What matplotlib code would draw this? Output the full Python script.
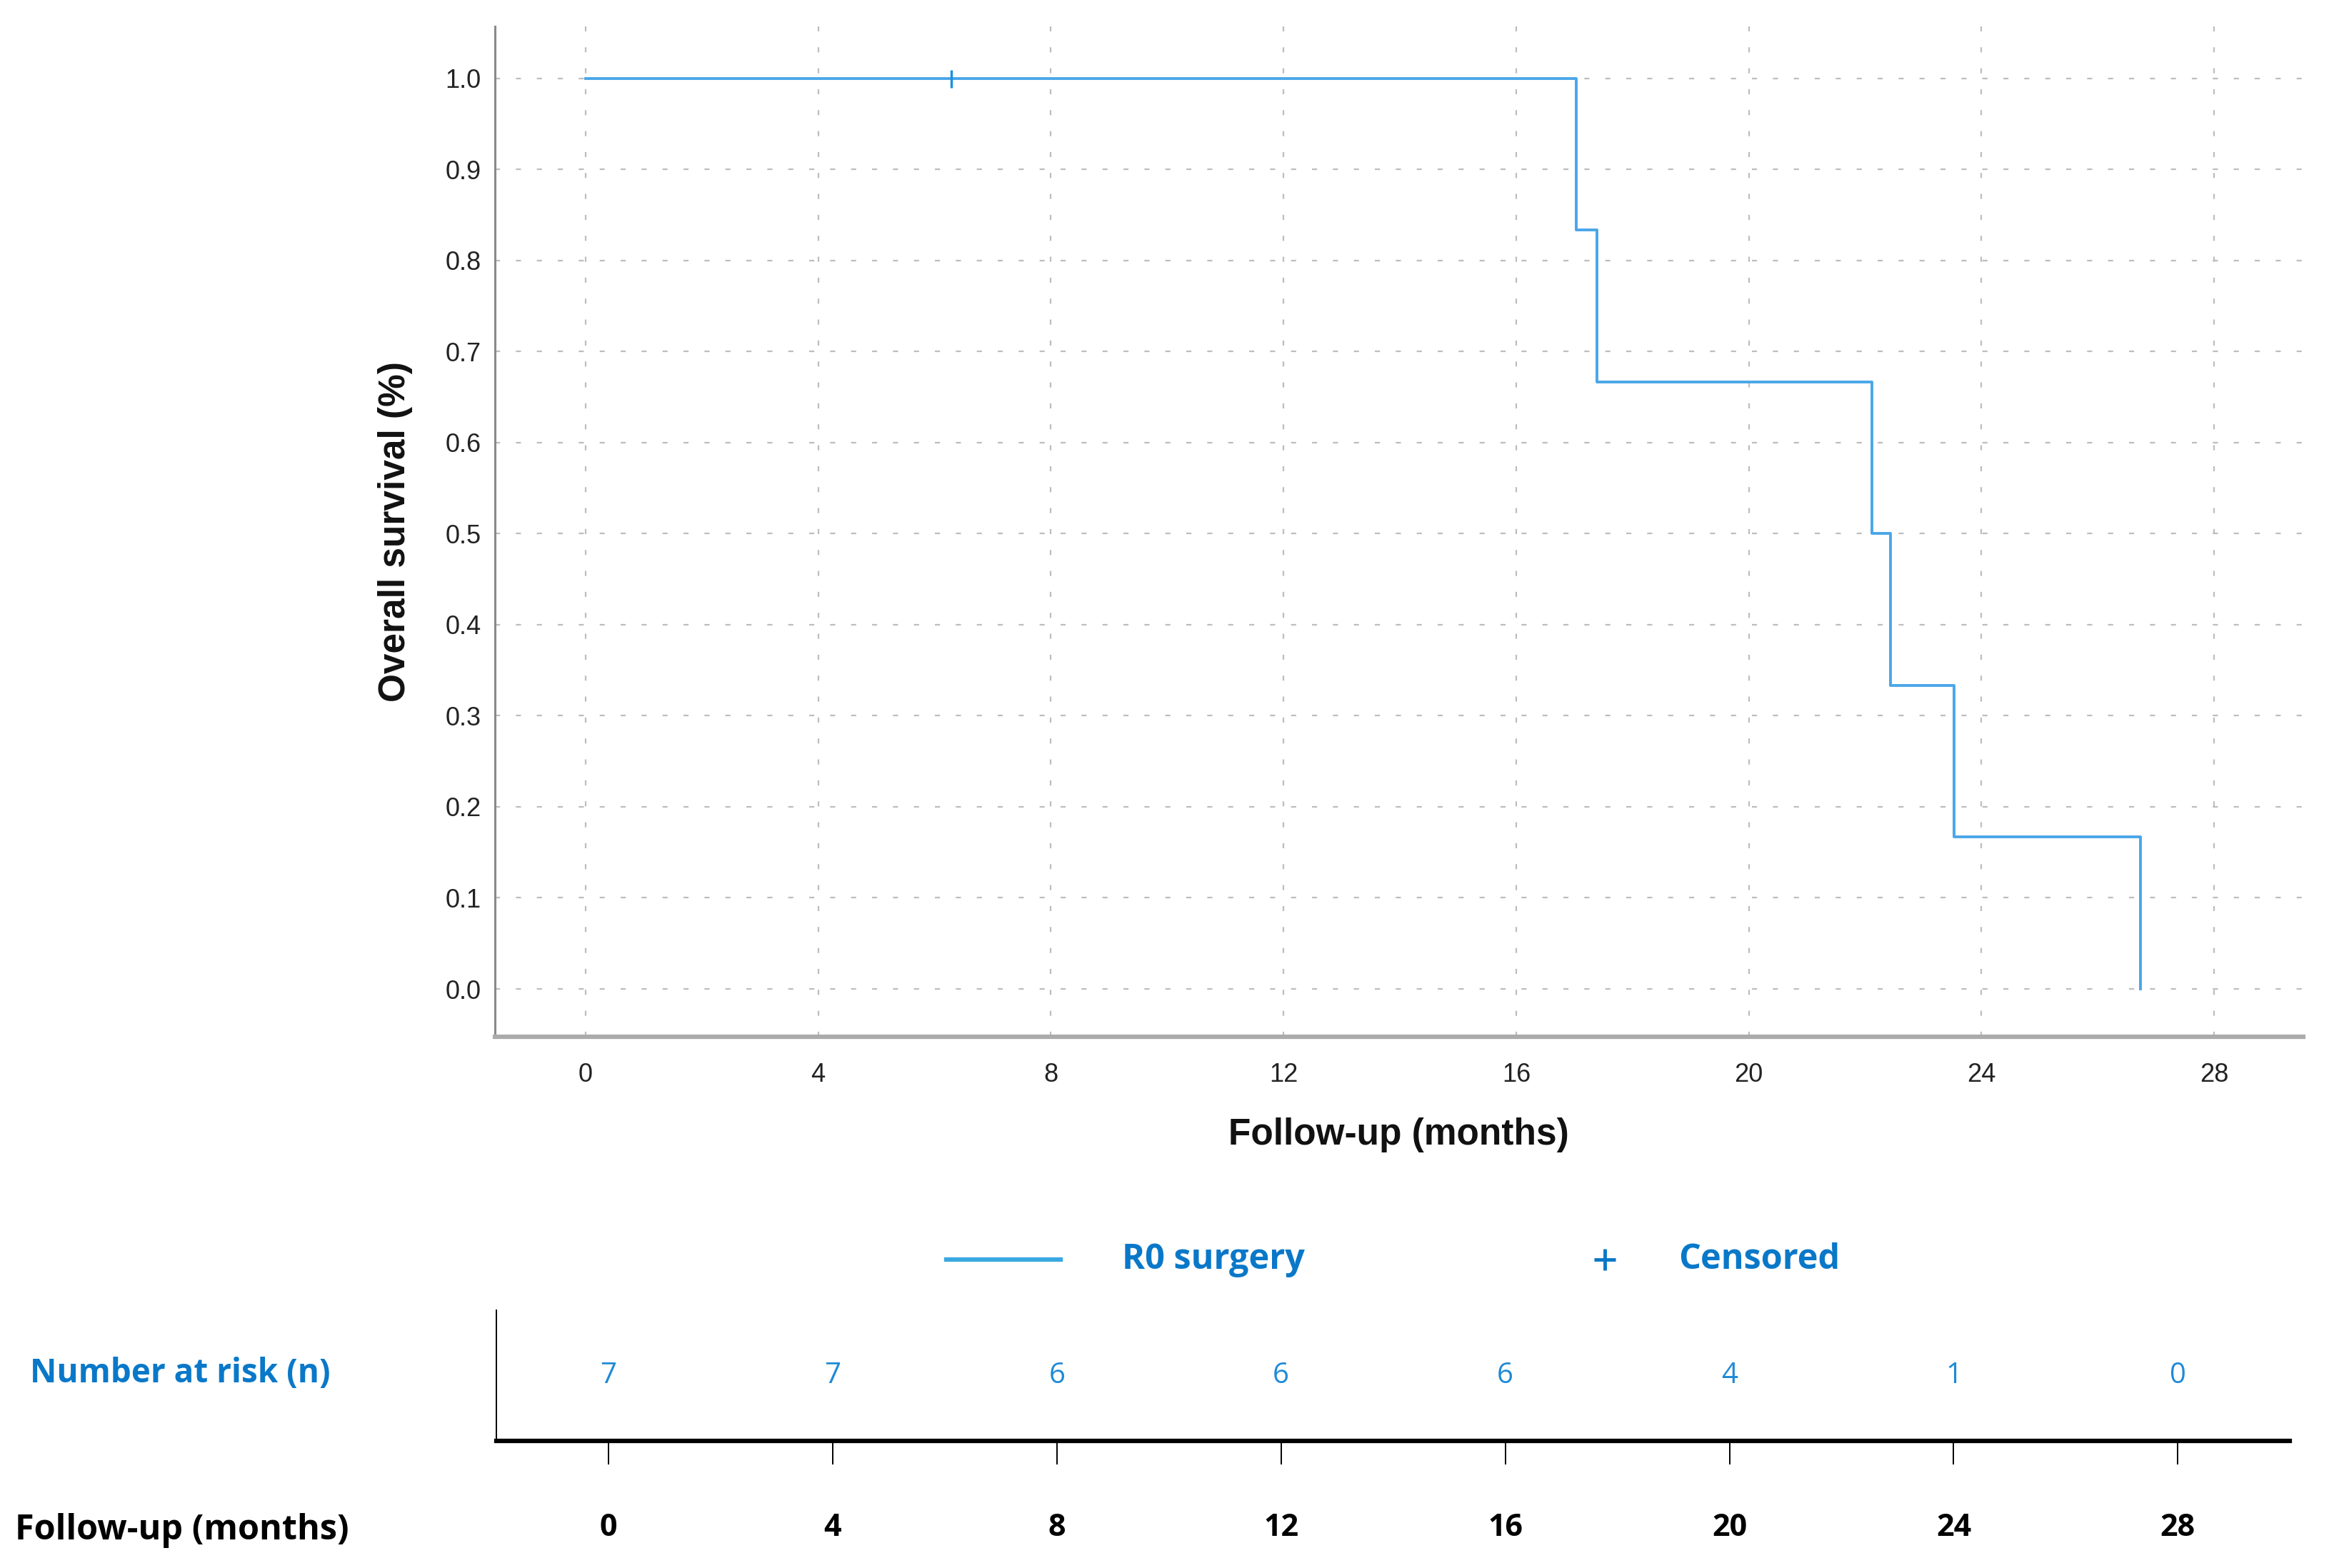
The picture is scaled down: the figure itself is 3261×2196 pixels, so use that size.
import matplotlib
matplotlib.use("Agg")
import matplotlib.pyplot as plt
from matplotlib.lines import Line2D
import numpy as np

# follow-up times (months)
event_times = [17.03, 17.39, 22.12, 22.43, 23.53, 26.73]
censor_times = [6.29]

x_ticks = [0, 4, 8, 12, 16, 20, 24, 28]
y_ticks = [0.0, 0.1, 0.2, 0.3, 0.4, 0.5, 0.6, 0.7, 0.8, 0.9, 1.0]

risk_times = [0, 4, 8, 12, 16, 20, 24, 28]
risk_counts = [7, 7, 6, 6, 6, 4, 1, 0]

line_col = "#4AA6E8"
blue_txt = "#0A78C8"
num_col = "#1E8AD6"


def kaplan_meier(events, censors):
    obs = sorted([(t, 1) for t in events] + [(t, 0) for t in censors])
    n = len(obs)
    s = 1.0
    xs, ys, cx, cy = [0.0], [1.0], [], []
    for t, e in obs:
        if e:
            s *= (n - 1) / n
            xs.append(t)
            ys.append(s)
        else:
            cx.append(t)
            cy.append(s)
        n -= 1
    return xs, ys, cx, cy


xs, ys, cx, cy = kaplan_meier(event_times, censor_times)

fig = plt.figure(figsize=(32.62, 21.96), dpi=100)

# ---- survival curve
ax = fig.add_axes([0.2124, 0.3388, 0.7762, 0.6444])
ax.step(xs, ys, where="post", color=line_col, lw=2.8, zorder=3)
ax.plot(cx, cy, ls="none", marker="|", ms=18, mew=2.5, color="#1E90E0", zorder=4)

ax.set_xlim(-1.56, 29.53)
ax.set_ylim(-0.0525, 1.057)
ax.set_xticks(x_ticks)
ax.set_yticks(y_ticks)
ax.set_yticklabels(["%.1f" % v for v in y_ticks])
ax.grid(True, color="#BDBDBD", lw=1.6, ls=(0, (3.2, 10)))
ax.tick_params(length=0, labelsize=26, labelcolor="#222222")
ax.tick_params(axis="x", pad=26)
ax.tick_params(axis="y", pad=14)
for lab in ax.get_xticklabels() + ax.get_yticklabels():
    lab.set_family("Liberation Sans")

for s in ["top", "right"]:
    ax.spines[s].set_visible(False)
ax.spines["left"].set_color("#8A8A8A")
ax.spines["left"].set_linewidth(2.2)
ax.spines["bottom"].set_color("#ABABAB")
ax.spines["bottom"].set_linewidth(4.5)

ax.set_xlabel("Follow-up (months)", fontsize=37, fontweight="bold",
              family="Liberation Sans", color="#111111")
ax.xaxis.set_label_coords(0.5, -0.097)
ax.xaxis.label.set_verticalalignment("center")
ax.set_ylabel("Overall survival (%)", fontsize=37, fontweight="bold",
              family="Liberation Sans", color="#111111")
ax.yaxis.set_label_coords(-0.055, 0.5)
ax.yaxis.label.set_verticalalignment("center")

# ---- legend row
fig.add_artist(Line2D([0.4062, 0.4552], [0.1967, 0.1967], transform=fig.transFigure,
                      color="#3AA8E0", lw=4.5))
fig.text(0.4816, 0.1967, "R0 surgery", fontsize=35, fontweight="bold",
         family="Open Sans", color=blue_txt, ha="left", va="center")
fig.add_artist(Line2D([0.6888], [0.1967], transform=fig.transFigure, ls="none",
                      marker="+", ms=22, mew=3.5, color=blue_txt))
fig.text(0.7204, 0.1967, "Censored", fontsize=35, fontweight="bold",
         family="Open Sans", color=blue_txt, ha="left", va="center")

# ---- number at risk table
rx = fig.add_axes([0.2131, 0.0811, 0.7698, 0.0833])
rx.set_xlim(-2, 30)
rx.set_ylim(0, 1)
for t, n in zip(risk_times, risk_counts):
    rx.text(t, 0.5, str(n), ha="center", va="center", fontsize=29,
            family="Open Sans", color=num_col)
rx.set_xticks(risk_times)
rx.set_xticklabels([str(t) for t in risk_times], fontsize=31, fontweight="bold",
                   family="Open Sans")
rx.set_yticks([])
rx.tick_params(axis="x", direction="out", length=24, width=1.4, pad=48, color="black")
for s in ["top", "right"]:
    rx.spines[s].set_visible(False)
rx.spines["left"].set_linewidth(1.4)
rx.spines["bottom"].set_linewidth(4.5)

fig.text(0.0129, 0.1239, "Number at risk (n)", fontsize=33, fontweight="bold",
         family="Open Sans", color=blue_txt, ha="left", va="center")
fig.text(0.0064, 0.0241, "Follow-up (months)", fontsize=35, fontweight="bold",
         family="Open Sans", color="black", ha="left", va="center")

fig.savefig("out.png", dpi=100)
